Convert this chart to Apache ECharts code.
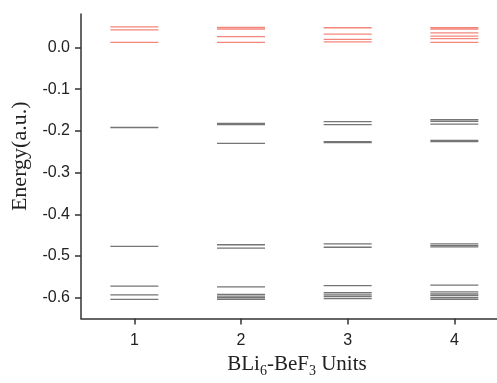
<!DOCTYPE html>
<html><head><meta charset="utf-8">
<script src="https://cdn.jsdelivr.net/npm/echarts@6/dist/echarts.min.js"></script>
<style>html,body{margin:0;padding:0;background:#fff}#c{width:497px;height:383px}</style>
</head><body><div id="c"></div>
<script>
// Number of BLi6-BeF3 units (x categories)
const units = [1, 2, 3, 4];
const yTicks = [-0.6, -0.5, -0.4, -0.3, -0.2, -0.1, 0.0];

// Unoccupied (red) levels per unit count
const unocc1 = [0.049, 0.042, 0.012];
const unocc2 = [0.048, 0.044, 0.026, 0.012];
const unocc3 = [0.047, 0.032, 0.019, 0.013];
const unocc4 = [0.047, 0.044, 0.035, 0.027, 0.021, 0.012];

// Occupied (gray) levels per unit count
const occ1 = [-0.192, -0.477, -0.572, -0.593, -0.604];
const occ2 = [-0.182, -0.185, -0.230, -0.473, -0.481, -0.574, -0.592, -0.596, -0.600, -0.604];
const occ3 = [-0.178, -0.185, -0.226, -0.228, -0.471, -0.479, -0.571, -0.588, -0.593, -0.597, -0.602];
const occ4 = [-0.173, -0.177, -0.184, -0.223, -0.226, -0.471, -0.475, -0.478, -0.570, -0.586, -0.591, -0.595, -0.600, -0.604];

const unoccAll = [unocc1, unocc2, unocc3, unocc4];
const occAll = [occ1, occ2, occ3, occ4];

function toPoints(groups) {
  const out = [];
  groups.forEach((levels, i) => levels.forEach(v => out.push([units[i], v])));
  return out;
}

const HALF = 0.225;
function makeRender(lw) {
  return function (params, api) {
    const x = api.value(0), y = api.value(1);
    const p1 = api.coord([x - HALF, y]);
    const p2 = api.coord([x + HALF, y]);
    return {
      type: 'line',
      shape: { x1: p1[0], y1: p1[1], x2: p2[0], y2: p2[1] },
      style: { stroke: api.visual('color'), lineWidth: lw }
    };
  };
}

const chart = echarts.init(document.getElementById('c'), null, { renderer: 'canvas' });
chart.setOption({
  animation: false,
  backgroundColor: '#fff',
  grid: { left: 81, right: 0, top: 14, bottom: 56, containLabel: false },
  xAxis: {
    type: 'value', min: 0.5, max: 4.4,
    name: '{a|BLi}{s|6}{a|-BeF}{s|3}{a| Units}',
    nameLocation: 'middle', nameGap: 30,
    nameTextStyle: {
      padding: [0, 0, 0, 16],
      rich: {
        a: { fontFamily: 'Liberation Serif', fontSize: 21, color: '#222', lineHeight: 28 },
        s: { fontFamily: 'Liberation Serif', fontSize: 14, color: '#222', lineHeight: 14, verticalAlign: 'bottom' }
      }
    },
    splitLine: { show: false },
    axisLine: { onZero: false, lineStyle: { color: '#333', width: 1.5 } },
    axisTick: { customValues: units, length: 6, lineStyle: { color: '#333', width: 1.5 } },
    axisLabel: { customValues: units, margin: 14, fontFamily: 'Liberation Sans', fontSize: 16, color: '#222',
      formatter: v => String(v) }
  },
  yAxis: {
    type: 'value', min: -0.65, max: 0.08,
    name: 'Energy(a.u.)', nameLocation: 'middle', nameGap: 46, nameRotate: 90,
    nameTextStyle: { fontFamily: 'Liberation Serif', fontSize: 22, color: '#222', padding: [0, 0, 0, 20] },
    splitLine: { show: false },
    axisLine: { show: true, onZero: false, lineStyle: { color: '#333', width: 1.5 } },
    axisTick: { show: true, customValues: yTicks, length: 6, lineStyle: { color: '#333', width: 1.5 } },
    axisLabel: { customValues: yTicks, margin: 11, fontFamily: 'Liberation Sans', fontSize: 16, color: '#222',
      formatter: v => v.toFixed(1) }
  },
  series: [
    { type: 'custom', name: 'unoccupied', renderItem: makeRender(1.3), itemStyle: { color: '#f3867b' },
      data: toPoints(unoccAll), clip: false },
    { type: 'custom', name: 'occupied', renderItem: makeRender(1.3), itemStyle: { color: '#757575' },
      data: toPoints(occAll), clip: false }
  ]
});
</script>
</body></html>
